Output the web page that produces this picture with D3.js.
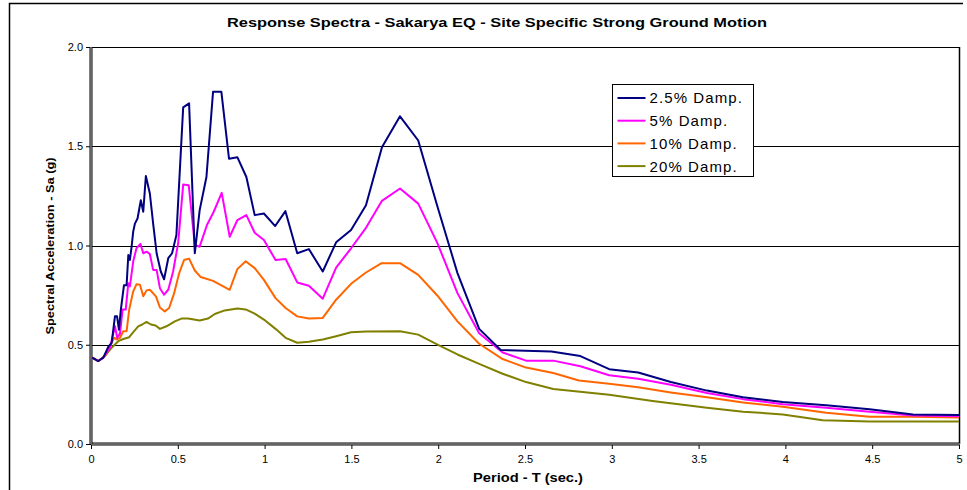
<!DOCTYPE html>
<html>
<head>
<meta charset="utf-8">
<script src="https://cdn.jsdelivr.net/npm/d3@7"></script>
<style>
    body { margin: 0; background: #fff; }
    svg text { font-family: Arial, "Liberation Sans", sans-serif; fill: #000; }
</style>
</head>
<body>
<div id="chart"></div>
<script>
/*
 * Chart data.
 */
var seriesNames = ['2.5% Damp.', '5% Damp.', '10% Damp.', '20% Damp.'];
var seriesColors = ['#000080', '#ff00ff', '#ff6600', '#808000'];

var period25 = [0.007, 0.042, 0.071, 0.10, 0.119, 0.138, 0.15, 0.161, 0.172, 0.19, 0.205, 0.215, 0.224, 0.234, 0.243, 0.253, 0.268, 0.287, 0.301, 0.316, 0.339, 0.358, 0.378, 0.402, 0.421, 0.445, 0.467, 0.492, 0.531, 0.565, 0.598, 0.626, 0.665, 0.703, 0.751, 0.795, 0.843, 0.895, 0.943, 0.996, 1.061, 1.12, 1.188, 1.255, 1.335, 1.412, 1.498, 1.584, 1.676, 1.78, 1.885, 1.996, 2.111, 2.236, 2.36, 2.652, 2.819, 2.985, 3.152, 3.34, 3.548, 3.756, 3.985, 4.235, 4.485, 4.735, 5.0];
var sa25 = [0.435, 0.418, 0.435, 0.49, 0.51, 0.643, 0.643, 0.576, 0.677, 0.80, 0.80, 0.952, 0.927, 0.994, 1.069, 1.11, 1.136, 1.228, 1.17, 1.35, 1.262, 1.11, 0.961, 0.869, 0.83, 0.936, 0.961, 1.053, 1.696, 1.716, 0.961, 1.178, 1.345, 1.774, 1.774, 1.437, 1.445, 1.345, 1.153, 1.161, 1.098, 1.173, 0.961, 0.982, 0.869, 1.016, 1.078, 1.203, 1.495, 1.651, 1.529, 1.195, 0.861, 0.58, 0.474, 0.466, 0.443, 0.377, 0.36, 0.312, 0.269, 0.235, 0.212, 0.195, 0.175, 0.149, 0.146];

var period5 = [0.007, 0.042, 0.071, 0.109, 0.123, 0.138, 0.151, 0.167, 0.182, 0.2, 0.215, 0.224, 0.243, 0.262, 0.285, 0.301, 0.32, 0.339, 0.358, 0.378, 0.397, 0.421, 0.445, 0.473, 0.502, 0.531, 0.563, 0.598, 0.626, 0.668, 0.707, 0.753, 0.799, 0.843, 0.895, 0.943, 0.996, 1.063, 1.121, 1.188, 1.255, 1.335, 1.412, 1.498, 1.584, 1.676, 1.78, 1.885, 1.996, 2.111, 2.236, 2.371, 2.506, 2.663, 2.819, 2.985, 3.152, 3.34, 3.548, 3.756, 3.985, 4.235, 4.485, 4.735, 5.0];
var sa5 = [0.435, 0.418, 0.435, 0.485, 0.535, 0.593, 0.535, 0.556, 0.677, 0.677, 0.81, 0.794, 0.919, 0.986, 1.008, 0.961, 0.969, 0.957, 0.877, 0.877, 0.785, 0.752, 0.777, 0.869, 1.011, 1.307, 1.303, 1.003, 0.994, 1.103, 1.17, 1.265, 1.044, 1.128, 1.153, 1.064, 1.028, 0.927, 0.932, 0.814, 0.797, 0.732, 0.889, 0.986, 1.089, 1.225, 1.287, 1.211, 1.011, 0.76, 0.558, 0.461, 0.42, 0.42, 0.392, 0.346, 0.329, 0.298, 0.257, 0.226, 0.2, 0.183, 0.163, 0.144, 0.14];

var period10 = [0.007, 0.042, 0.08, 0.119, 0.134, 0.148, 0.167, 0.186, 0.205, 0.22, 0.243, 0.262, 0.282, 0.301, 0.32, 0.339, 0.374, 0.397, 0.425, 0.45, 0.479, 0.508, 0.536, 0.565, 0.598, 0.632, 0.703, 0.799, 0.843, 0.891, 0.943, 0.996, 1.063, 1.121, 1.188, 1.255, 1.335, 1.412, 1.498, 1.584, 1.674, 1.78, 1.885, 1.996, 2.111, 2.236, 2.371, 2.506, 2.663, 2.81, 2.985, 3.152, 3.34, 3.548, 3.756, 3.985, 4.235, 4.485, 4.735, 5.0];
var sa10 = [0.435, 0.418, 0.443, 0.51, 0.535, 0.527, 0.535, 0.568, 0.568, 0.677, 0.768, 0.805, 0.802, 0.744, 0.774, 0.777, 0.744, 0.688, 0.668, 0.685, 0.76, 0.861, 0.927, 0.934, 0.874, 0.841, 0.822, 0.777, 0.881, 0.921, 0.886, 0.827, 0.735, 0.685, 0.643, 0.632, 0.635, 0.727, 0.807, 0.864, 0.911, 0.911, 0.852, 0.747, 0.618, 0.505, 0.428, 0.385, 0.358, 0.32, 0.303, 0.286, 0.26, 0.235, 0.209, 0.188, 0.158, 0.137, 0.137, 0.134];

var period20 = [0.007, 0.042, 0.08, 0.119, 0.157, 0.186, 0.22, 0.24, 0.257, 0.272, 0.295, 0.32, 0.345, 0.372, 0.397, 0.435, 0.483, 0.521, 0.559, 0.626, 0.674, 0.713, 0.77, 0.843, 0.891, 0.943, 0.996, 1.063, 1.121, 1.188, 1.255, 1.335, 1.412, 1.498, 1.584, 1.78, 1.885, 1.996, 2.111, 2.236, 2.371, 2.506, 2.663, 2.985, 3.235, 3.548, 3.756, 3.985, 4.215, 4.485, 5.0];
var sa20 = [0.435, 0.418, 0.443, 0.485, 0.518, 0.529, 0.538, 0.56, 0.577, 0.593, 0.602, 0.615, 0.602, 0.597, 0.58, 0.593, 0.618, 0.632, 0.632, 0.622, 0.632, 0.655, 0.673, 0.683, 0.678, 0.657, 0.627, 0.58, 0.535, 0.51, 0.515, 0.526, 0.543, 0.563, 0.567, 0.568, 0.551, 0.501, 0.451, 0.404, 0.354, 0.312, 0.277, 0.248, 0.217, 0.183, 0.163, 0.149, 0.12, 0.113, 0.113];

var xTicks = [0, 0.5, 1, 1.5, 2, 2.5, 3, 3.5, 4, 4.5, 5];
var yTicks = [0, 0.5, 1.0, 1.5, 2.0];

var titleText = 'Response Spectra - Sakarya EQ - Site Specific Strong Ground Motion';
var xTitle = 'Period - T (sec.)';
var yTitle = 'Spectral Acceleration - Sa (g)';

/*
 * Zip periods and values into point lists.
 */
var series = [[period25, sa25], [period5, sa5], [period10, sa10], [period20, sa20]]
    .map(function(pair, i) {
        return {
            name: seriesNames[i],
            color: seriesColors[i],
            points: pair[0].map(function(t, j) { return {t: t, sa: pair[1][j]}; })
        };
    });

var width = 967, height = 490;
var plot = {left: 91, right: 959, top: 47, bottom: 444};

var x = d3.scaleLinear().domain([0, 5]).range([plot.left, plot.right]);
var y = d3.scaleLinear().domain([0, 2]).range([plot.bottom, plot.top]);

var svg = d3.select('#chart').append('svg')
    .attr('width', width)
    .attr('height', height);

/*
 * Outer chart frame (clipped on the right and bottom in the original).
 */
svg.append('path')
    .attr('d', 'M9.5,' + height + 'V3.5H963')
    .attr('fill', 'none')
    .attr('stroke', '#000')
    .attr('stroke-width', 1.5);

/*
 * Title.
 */
svg.append('text')
    .attr('x', 497)
    .attr('y', 27)
    .attr('text-anchor', 'middle')
    .attr('font-size', 13)
    .attr('font-weight', 'bold')
    .attr('textLength', 540)
    .attr('lengthAdjust', 'spacingAndGlyphs')
    .text(titleText);

/*
 * Horizontal grid lines.
 */
svg.append('g')
    .selectAll('line')
    .data(yTicks.filter(function(d) { return d > 0; }))
    .join('line')
    .attr('x1', plot.left)
    .attr('x2', plot.right)
    .attr('y1', function(d) { return Math.round(y(d)) + 0.5; })
    .attr('y2', function(d) { return Math.round(y(d)) + 0.5; })
    .attr('stroke', '#000')
    .attr('stroke-width', 1);

/*
 * Right border of plot.
 */
svg.append('line')
    .attr('x1', plot.right + 0.5).attr('x2', plot.right + 0.5)
    .attr('y1', plot.top).attr('y2', plot.bottom)
    .attr('stroke', '#000')
    .attr('stroke-width', 1.5);

/*
 * Axes built with d3 and restyled to the double-line look.
 */
var xAxis = d3.axisBottom(x).tickValues(xTicks).tickSize(5).tickPadding(4)
    .tickFormat(d3.format('~g'));
var yAxis = d3.axisLeft(y).tickValues(yTicks).tickSize(5).tickPadding(2)
    .tickFormat(d3.format('.1f'));

var gx = svg.append('g')
    .attr('transform', 'translate(0,' + plot.bottom + ')')
    .call(xAxis);
var gy = svg.append('g')
    .attr('transform', 'translate(' + plot.left + ',0)')
    .call(yAxis);

[gx, gy].forEach(function(g) {
    g.select('.domain').remove();
    g.selectAll('.tick line').attr('stroke', '#000');
    g.selectAll('.tick text')
        .attr('font-size', 11)
        .attr('font-family', 'Arial, "Liberation Sans", sans-serif')
        .attr('fill', '#000');
});
gx.selectAll('.tick text').attr('dy', '0.9em');
gy.selectAll('.tick text').attr('dx', '-1px');

/*
 * Double axis lines.
 */
var axisLines = [
    [plot.left, plot.bottom, plot.right + 1, plot.bottom],
    [plot.left, plot.top, plot.left, plot.bottom]
];
axisLines.forEach(function(l) {
    svg.append('line')
        .attr('x1', l[0]).attr('y1', l[1]).attr('x2', l[2]).attr('y2', l[3])
        .attr('stroke', '#000').attr('stroke-width', 3);
    svg.append('line')
        .attr('x1', l[0]).attr('y1', l[1]).attr('x2', l[2]).attr('y2', l[3])
        .attr('stroke', '#c8c8c8').attr('stroke-width', 1);
});

/*
 * Series lines, drawn lowest damping last so it stays on top.
 */
var line = d3.line()
    .x(function(d) { return x(d.t); })
    .y(function(d) { return y(d.sa); });

svg.append('g')
    .selectAll('path')
    .data(series.slice().reverse())
    .join('path')
    .attr('d', function(d) { return line(d.points); })
    .attr('fill', 'none')
    .attr('stroke', function(d) { return d.color; })
    .attr('stroke-width', 2)
    .attr('stroke-linejoin', 'round');

/*
 * Axis titles.
 */
svg.append('text')
    .attr('x', 528)
    .attr('y', 482)
    .attr('text-anchor', 'middle')
    .attr('font-size', 12)
    .attr('font-weight', 'bold')
    .attr('textLength', 110)
    .attr('lengthAdjust', 'spacingAndGlyphs')
    .text(xTitle);

svg.append('text')
    .attr('transform', 'translate(54,246) rotate(-90)')
    .attr('text-anchor', 'middle')
    .attr('font-size', 11)
    .attr('font-weight', 'bold')
    .attr('textLength', 177)
    .attr('lengthAdjust', 'spacingAndGlyphs')
    .text(yTitle);

/*
 * Legend box.
 */
var legend = svg.append('g').attr('transform', 'translate(612.5,84.5)');

legend.append('rect')
    .attr('width', 141)
    .attr('height', 92)
    .attr('fill', '#fff')
    .attr('stroke', '#000')
    .attr('stroke-width', 1);

var item = legend.selectAll('g.item')
    .data(series)
    .join('g')
    .attr('class', 'item')
    .attr('transform', function(d, i) { return 'translate(0,' + (13.5 + i * 22.7) + ')'; });

item.append('line')
    .attr('x1', 5).attr('x2', 33)
    .attr('stroke', function(d) { return d.color; })
    .attr('stroke-width', 2);

item.append('text')
    .attr('x', 37)
    .attr('dy', '0.36em')
    .attr('font-size', 15)
    .attr('letter-spacing', 1.1)
    .text(function(d) { return d.name; });
</script>
</body>
</html>
